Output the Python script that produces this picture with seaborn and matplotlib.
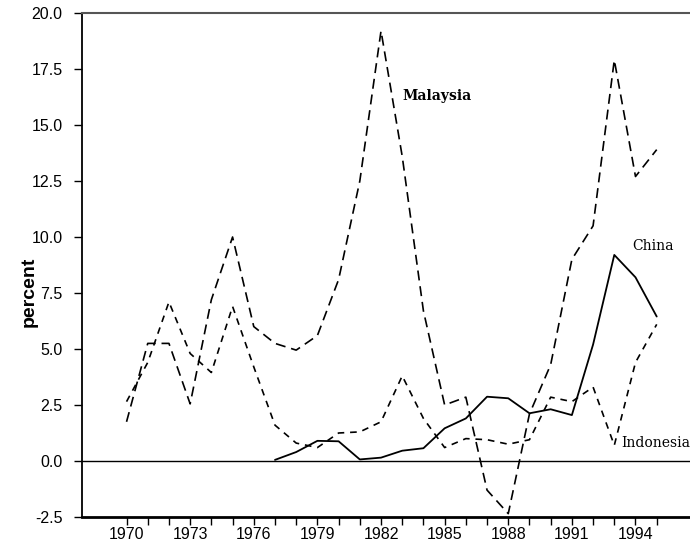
import numpy as np
import pandas as pd
import matplotlib
matplotlib.use("Agg")
import matplotlib.pyplot as plt
import seaborn as sns

years = list(range(1970, 1996))
malaysia = [1.75, 5.25, 5.25, 2.55, 7.2, 10.0, 6.0, 5.25, 4.95, 5.6,
            8.1, 12.5, 19.2, 13.6, 6.7, 2.5, 2.85, -1.3, -2.35, 2.1,
            4.3, 9.0, 10.5, 17.9, 12.7, 13.9]
indonesia = [2.65, 4.4, 7.1, 4.8, 3.95, 6.9, 4.2, 1.6, 0.8, 0.6,
             1.25, 1.3, 1.75, 3.8, 1.9, 0.6, 1.0, 0.95, 0.75, 0.95,
             2.85, 2.65, 3.3, 0.7, 4.4, 6.1]
china = [np.nan] * 7 + [0.05, 0.4, 0.9, 0.88, 0.07, 0.15, 0.46, 0.57, 1.46,
                        1.9, 2.87, 2.8, 2.13, 2.31, 2.05, 5.2, 9.2, 8.2, 6.45]
yticks = [-2.5, 0.0, 2.5, 5.0, 7.5, 10.0, 12.5, 15.0, 17.5, 20.0]
xlabel_years = list(range(1970, 1995, 3))

sns.set_style("ticks")
plt.rcParams['font.family'] = ['Liberation Sans', 'DejaVu Sans']
plt.rcParams['text.color'] = 'black'
plt.rcParams['axes.labelcolor'] = 'black'
plt.rcParams['xtick.color'] = 'black'
plt.rcParams['ytick.color'] = 'black'

fig = plt.figure(figsize=(6.9, 5.44), dpi=100)
ax = fig.add_axes([82 / 690, 27 / 544, 1 - 82 / 690, (517 - 13) / 544])

df = pd.DataFrame({"year": years, "Malaysia": malaysia,
                   "Indonesia": indonesia, "China": china})

sns.lineplot(data=df, x="year", y="Malaysia", ax=ax, color="black",
             linewidth=1.2, linestyle=(0, (6, 3.5)))
sns.lineplot(data=df, x="year", y="Indonesia", ax=ax, color="black",
             linewidth=1.2, linestyle=(0, (4, 3.5)))
sns.lineplot(data=df.dropna(), x="year", y="China", ax=ax, color="black",
             linewidth=1.3, linestyle="-")

ax.axhline(0, color="black", linewidth=1.0, zorder=1)

ax.set_xlim(1967.9, 1996.57)
ax.set_ylim(-2.5, 20.0)
ax.set_xticks(years)
ax.set_xticklabels([str(y) if y in xlabel_years else "" for y in years],
                   fontsize=11.5)
ax.set_yticks(yticks)
ax.set_yticklabels([f"{v:.1f}" for v in yticks], fontsize=11.5)
ax.tick_params(axis="x", direction="out", length=6, width=1.0, pad=1.0)
ax.tick_params(axis="y", direction="out", length=6, width=1.0, pad=8)

ax.set_xlabel("")
ax.set_ylabel("percent", fontsize=14, fontweight="bold")
ax.yaxis.set_label_coords(-0.073, 0.446)

ax.spines["right"].set_visible(False)
ax.spines["top"].set_color("#555555")
ax.spines["top"].set_linewidth(1.5)
ax.spines["left"].set_color("black")
ax.spines["left"].set_linewidth(1.3)
ax.spines["bottom"].set_color("black")
ax.spines["bottom"].set_linewidth(2.0)

ax.text(1983.0, 16.3, "Malaysia", family="DejaVu Serif", fontsize=10,
        fontweight="bold", va="center", ha="left")
ax.text(1993.87, 9.6, "China", family="DejaVu Serif", fontsize=10,
        va="center", ha="left")
ax.text(1993.35, 0.8, "Indonesia", family="DejaVu Serif", fontsize=10,
        va="center", ha="left")

fig.savefig("out.png", dpi=100)
